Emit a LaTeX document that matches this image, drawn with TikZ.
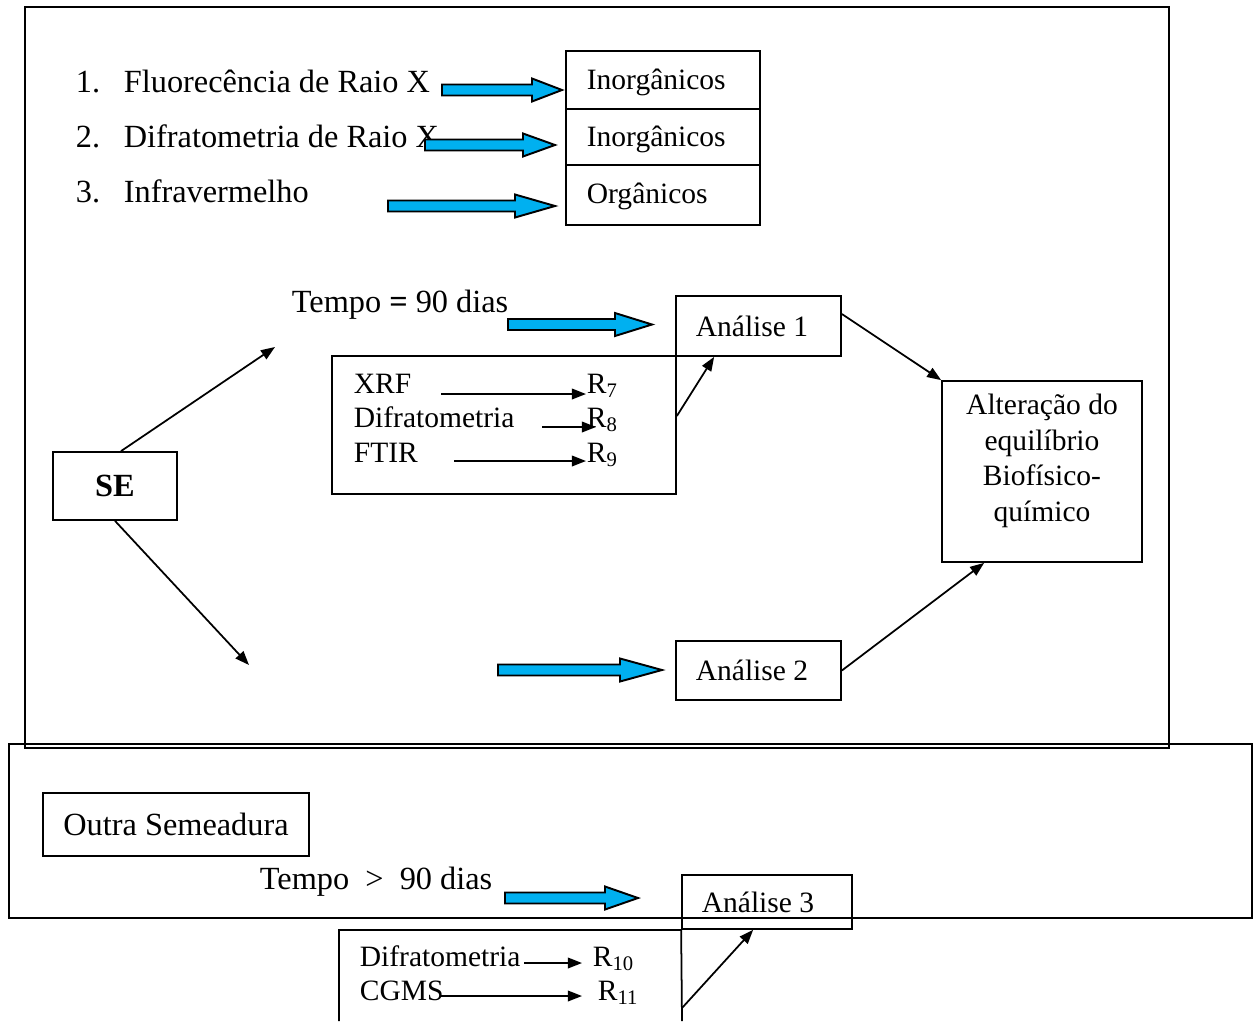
\documentclass[tikz,border=0pt]{standalone}
\usepackage{fontspec}
\setmainfont{Liberation Serif}
\usetikzlibrary{arrows.meta}
\definecolor{seta}{RGB}{0,176,240}
% fat blue arrow: [head length]{x start}{x tip}{y}
\newcommand{\fatarrow}[4][32]{%
\draw[fatarr] (#2,#4-5.5) -- (#3-#1,#4-5.5) -- (#3-#1,#4-11.5) -- (#3,#4)
  -- (#3-#1,#4+11.5) -- (#3-#1,#4+5.5) -- (#2,#4+5.5) -- cycle;}
\begin{document}
\begin{tikzpicture}[x=0.02cm, y=-0.02cm, line width=1pt,
  font=\fontsize{16.8}{20.2}\selectfont,
  big/.style={font=\fontsize{18.4}{22}\selectfont},
  box/.style={draw, rectangle, inner sep=0pt},
  fatarr/.style={draw=black, fill=seta, line width=1.1pt, line join=miter},
  conn/.style={-{Triangle[length=8pt,width=6pt]}},
  txt/.style={anchor=base west, inner sep=0pt}]
\useasboundingbox (0,0) rectangle (1253,1021);
\draw (25,7) rectangle (1169,748);
\draw (9,744) rectangle (1252,918);

\node[txt, big] (n1) at (75,92) {1.};
\node[txt, big] (n2) at (75,147) {2.};
\node[txt, big] (n3) at (75,202) {3.};
\node[txt, big] (fluo) at (123,92) {Fluorecência de Raio X};
\node[txt, big] (difr) at (123,147) {Difratometria de Raio X};
\node[txt, big] (infra) at (123,202) {Infravermelho};
\fatarrow[30]{442}{562}{90}
\fatarrow{425}{555}{145}
\fatarrow[40]{388}{555}{206}
\node[box, minimum width=3.88cm, minimum height=1.16cm] (inorg1) at (663,80) {};
\node[box, minimum width=3.88cm, minimum height=1.12cm] (inorg2) at (663,137) {};
\node[box, minimum width=3.88cm, minimum height=1.2cm] (org) at (663,195) {};
\node[txt] at (586,89) {Inorgânicos};
\node[txt] at (586,146) {Inorgânicos};
\node[txt] at (586,203) {Orgânicos};

\node[box, minimum width=2.48cm, minimum height=1.36cm, font=\fontsize{18.4}{22}\selectfont\bfseries] (se) at (115,486) {SE};
\coordinate (t1) at (275,347);
\coordinate (t2) at (249,665);
\draw[conn] (se.north) ++(0.12cm,0) -- (t1);
\draw[conn] (se.south) -- (t2);

\node[txt, big] (tempo1) at (291,312) {Tempo \textbf{=} 90 dias};
\fatarrow[37]{508}{652}{324.5}
\node[box, minimum width=3.3cm, minimum height=1.2cm] (a1) at (758.5,326) {Análise 1\kern0.26cm};
\node[box, minimum width=6.88cm, minimum height=2.76cm] (grpA) at (504,425) {};
\node[txt] (xrf) at (353,393) {XRF};
\node[txt] (dif) at (353,427) {Difratometria};
\node[txt] (ftir) at (353,462) {FTIR};
\node[txt] (r7) at (586,393) {R\textsubscript{7}};
\node[txt] (r8) at (586,427) {R\textsubscript{8}};
\node[txt] (r9) at (586,462) {R\textsubscript{9}};
\draw[conn] (441,394) -- (r7.west |- 441,394);
\draw[conn] (542,427) -- (596,427);
\draw[conn] (454,461) -- (r9.west |- 454,461);
\draw[conn] ([yshift=0.18cm]grpA.east) -- ([xshift=0.78cm]a1.south west);

\node[box, minimum width=4cm, minimum height=3.62cm] (alt) at (1042,471.5) {};
\node[align=center, inner sep=0pt] (altx) at (1042,461) {Alteração do\\equilíbrio\\Biofísico-\\químico};
\draw[conn] ([yshift=0.24cm]a1.east) -- (alt.north west);

\fatarrow[42]{498}{662}{670}
\node[box, minimum width=3.3cm, minimum height=1.18cm] (a2) at (758.5,670.5) {Análise 2\kern0.26cm};
\draw[conn] (a2.east) -- ([xshift=0.86cm]alt.south west);

\node[box, big, minimum width=5.32cm, minimum height=1.26cm] (outra) at (176,824.5) {Outra Semeadura};
\node[txt, big] (tempo2) at (259,889) {Tempo\ \ >\ \ 90 dias};
\fatarrow[33]{505}{638}{898}
\node[box, minimum width=3.4cm, minimum height=1.08cm] (a3) at (767,902) {Análise 3\kern0.36cm};
\draw (339,1021) |- (a3.south west) -- (682,1021);
\node[txt] (dif2) at (359,966) {Difratometria};
\node[txt] (cgms) at (359,1000) {CGMS};
\node[txt] (r10) at (592,966) {R\textsubscript{10}};
\node[txt] (r11) at (597,1000) {R\textsubscript{11}};
\draw[conn] (524,963) -- (582,963);
\draw[conn] (440,996) -- (582,996);
\coordinate (b3) at (682,1008);
\draw[conn] (b3) -- ([xshift=1.44cm]a3.south west);
\end{tikzpicture}
\end{document}
